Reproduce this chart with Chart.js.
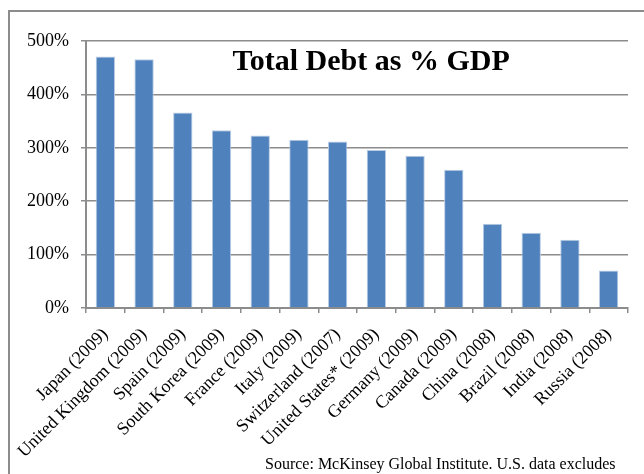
<!DOCTYPE html>
<html lang="en">
  <head>
    <meta charset="utf-8" />
    <script src="https://cdnjs.cloudflare.com/ajax/libs/Chart.js/4.4.1/chart.umd.js"></script>
    <style>
      body { margin: 0; background: #fff; overflow: hidden; }
      #frame {
        position: absolute; left: 8px; top: 10px; width: 660px; height: 490px;
        border: 2px solid #8c8c8c; box-sizing: border-box;
      }
      #debt { position: absolute; left: 0; top: 0; }
      #source {
        position: absolute; left: 265px; top: 455px;
        font-family: "Liberation Serif", serif; font-size: 16px; color: #000;
        white-space: nowrap;
      }
    </style>
  </head>

  <body>
    <div id="frame"></div>
    <canvas id="debt" width="644" height="474"></canvas>
    <div id="source">Source: McKinsey Global Institute. U.S. data excludes</div>

    <script>
      const countries = [
        "Japan (2009)", "United Kingdom (2009)", "Spain (2009)", "South Korea (2009)",
        "France (2009)", "Italy (2009)", "Switzerland (2007)", "United States* (2009)",
        "Germany (2009)", "Canada (2009)", "China (2008)", "Brazil (2008)",
        "India (2008)", "Russia (2008)"
      ];
      const debtPct = [471, 466, 366, 333, 323, 315, 312, 296, 285, 259, 158, 141, 128, 70];
      const yTicks = [0, 100, 200, 300, 400, 500];
      const chartTitle = "Total Debt as % GDP";

      const serif = "'Liberation Serif', 'Times New Roman', serif";

      // title sits inside the plot area, like the Excel original
      const innerTitle = {
        id: "innerTitle",
        afterDraw(chart) {
          const a = chart.chartArea;
          const c = chart.ctx;
          c.save();
          c.font = "bold 30px " + serif;
          c.fillStyle = "#000";
          c.textAlign = "center";
          c.textBaseline = "alphabetic";
          c.fillText(chartTitle, a.left + a.width * 0.526, a.top + 29);
          c.restore();
        },
      };

      new Chart(document.getElementById("debt"), {
        type: "bar",
        data: {
          labels: countries,
          datasets: [
            {
              data: debtPct,
              backgroundColor: "#4f81bd",
              borderColor: "#b9cde5",
              borderWidth: 1,
              barPercentage: 0.5,
              categoryPercentage: 1,
            },
          ],
        },
        options: {
          responsive: false,
          animation: false,
          layout: { padding: { top: 41, right: 16, left: 0, bottom: 0 } },
          plugins: { legend: { display: false }, tooltip: { enabled: false } },
          scales: {
            x: {
              offset: true,
              grid: {
                drawOnChartArea: false, drawTicks: true, tickLength: 5,
                color: "#8c8c8c", lineWidth: 1.5,
              },
              border: { color: "#8c8c8c", width: 2 },
              ticks: {
                minRotation: 45, maxRotation: 45, autoSkip: false, padding: 11,
                color: "#000", font: { family: serif, size: 18 },
              },
              afterFit(s) { s.height = 166; },
            },
            y: {
              min: 0, max: 500,
              afterBuildTicks(s) { s.ticks = yTicks.map(v => ({ value: v })); },
              grid: { color: "#8c8c8c", lineWidth: 1.5, tickLength: 5 },
              border: { color: "#8c8c8c", width: 2 },
              ticks: {
                padding: 12, color: "#000", font: { family: serif, size: 18 },
                callback: v => v + "%",
              },
              afterFit(s) { s.width = 86; },
            },
          },
        },
        plugins: [innerTitle],
      });
    </script>
  </body>
</html>
